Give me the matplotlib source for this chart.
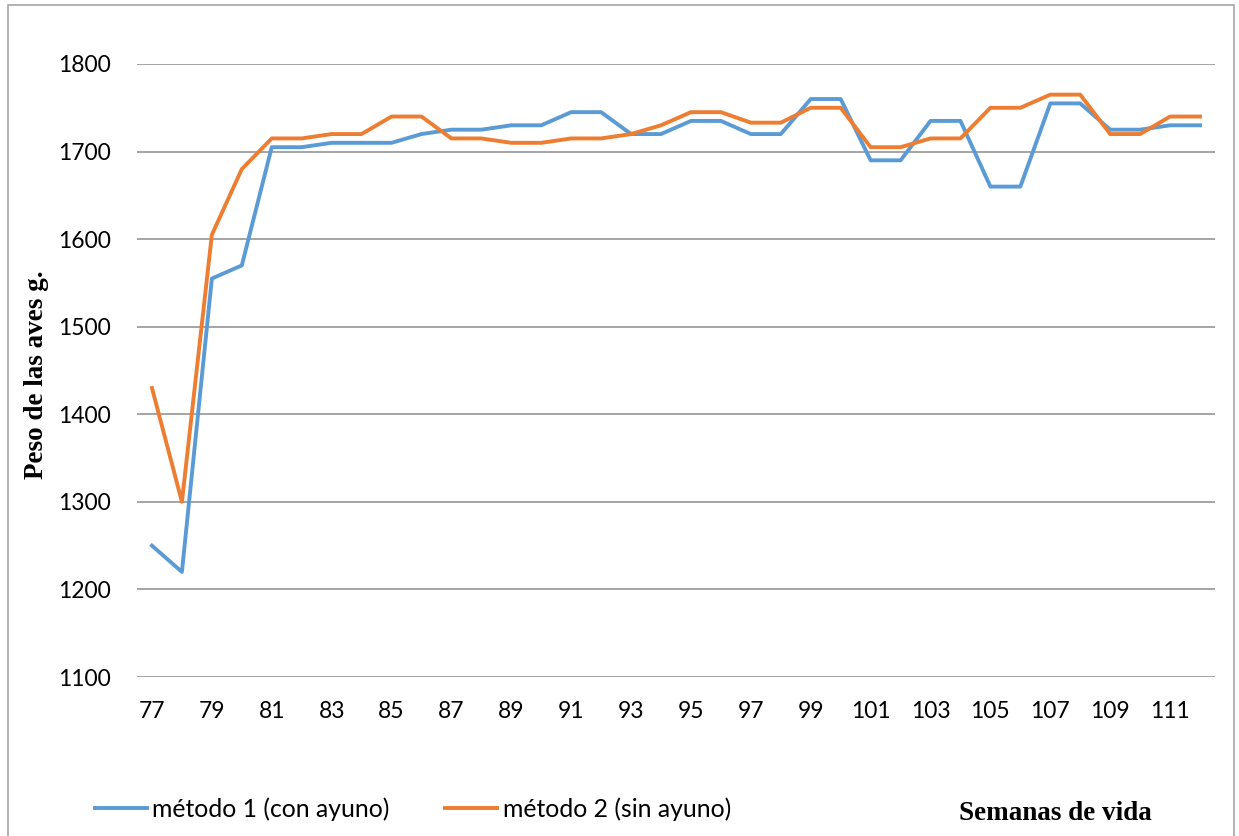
import matplotlib.pyplot as plt
from matplotlib.patches import Rectangle

# semanas de vida
semanas = list(range(77, 113))

# peso de las aves (g)
metodo1 = [1250, 1220, 1555, 1570, 1705, 1705, 1710, 1710, 1710, 1720,
           1725, 1725, 1730, 1730, 1745, 1745, 1720, 1720, 1735, 1735,
           1720, 1720, 1760, 1760, 1690, 1690, 1735, 1735, 1660, 1660,
           1755, 1755, 1725, 1725, 1730, 1730]
metodo2 = [1430, 1300, 1605, 1680, 1715, 1715, 1720, 1720, 1740, 1740,
           1715, 1715, 1710, 1710, 1715, 1715, 1720, 1730, 1745, 1745,
           1733, 1733, 1750, 1750, 1705, 1705, 1715, 1715, 1750, 1750,
           1765, 1765, 1720, 1720, 1740, 1740]

etiquetas = ['método 1 (con ayuno)', 'método 2 (sin ayuno)']
y_ticks = list(range(1100, 1801, 100))
x_ticks = list(range(77, 112, 2))

plt.rcParams['font.family'] = ['Lato', 'DejaVu Sans']

fig = plt.figure(figsize=(12.39, 8.36), dpi=100)
ax = fig.add_axes([137 / 1239, 1 - 677 / 836, 1078 / 1239, 613 / 836])

# borde del area del grafico
fig.patches.append(Rectangle((8 / 1239, -0.05), 1226 / 1239, 1.05 - 5 / 836,
                             transform=fig.transFigure, fill=False,
                             edgecolor='#a6a6a6', linewidth=1.2))

ax.plot(semanas, metodo1, color='#5b9bd5', linewidth=2.8, label=etiquetas[0])
ax.plot(semanas, metodo2, color='#ed7d31', linewidth=2.8, label=etiquetas[1])

ax.set_xlim(76.5, 112.5)
ax.set_ylim(1100, 1800)
ax.set_yticks(y_ticks)
ax.set_xticks(x_ticks)
ax.yaxis.grid(True, color='#8c8c8c', linewidth=1.1)
ax.set_axisbelow(True)
for s in ax.spines.values():
    s.set_visible(False)
ax.tick_params(axis='both', length=0, labelsize=16.5, colors='#000000')
ax.tick_params(axis='y', pad=19)
ax.tick_params(axis='x', pad=17)

fig.text(37 / 1239, 1 - 375 / 836, 'Peso de las aves g.', rotation=90,
         ha='center', va='center', fontsize=19.5, fontweight='bold',
         family='Liberation Serif')
fig.text(1055 / 1239, 1 - 813 / 836, 'Semanas de vida', ha='center',
         va='center', fontsize=19.5, fontweight='bold', family='Liberation Serif')

fig.legend(loc='center left', bbox_to_anchor=(95 / 1239, 1 - 809 / 836),
           ncol=2, frameon=False, fontsize=17.8, borderpad=0, borderaxespad=0,
           handlelength=2.1, handletextpad=0.22, columnspacing=2.25)

fig.savefig('out.png', dpi=100)
